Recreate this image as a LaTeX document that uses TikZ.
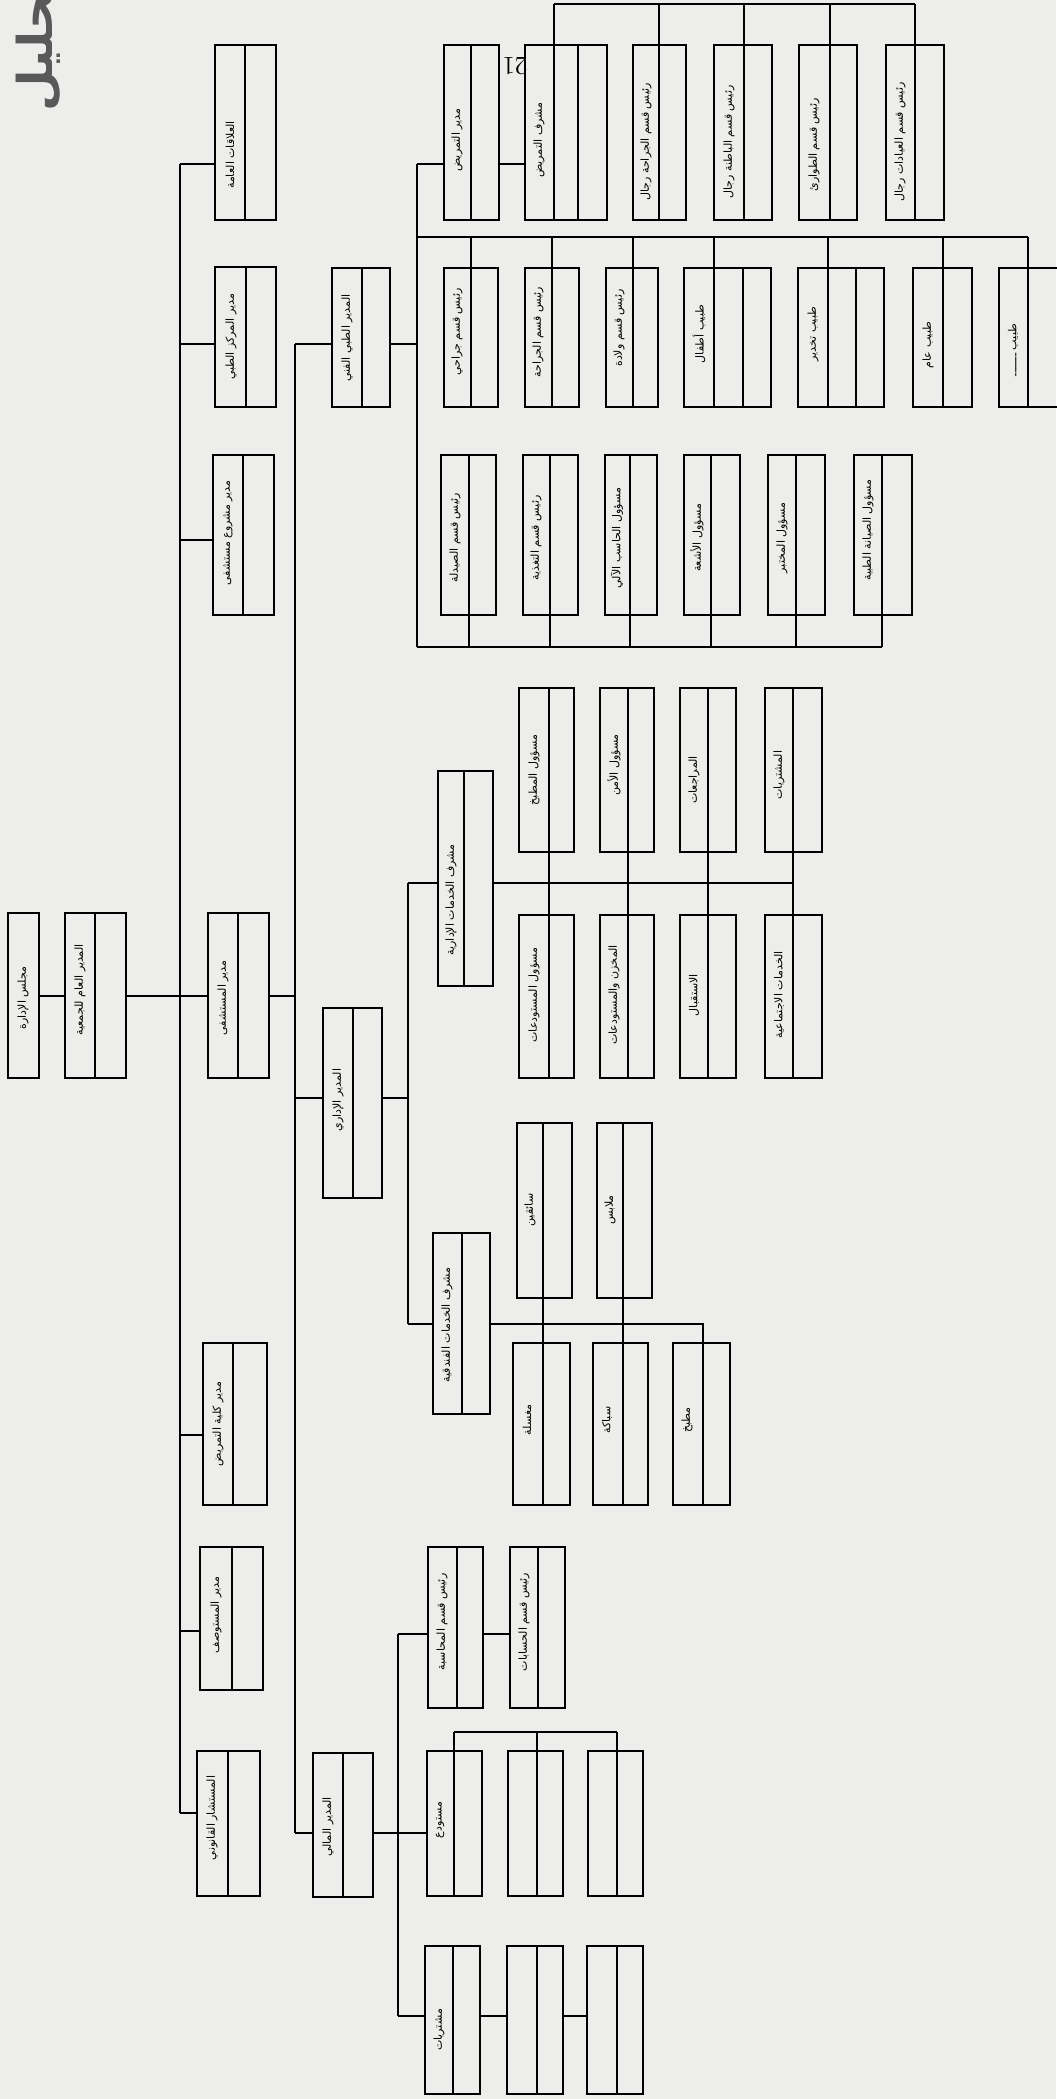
\documentclass[tikz,border=0pt]{standalone}
\usepackage{fontspec}
\usetikzlibrary{fit}
\TeXXeTstate=1
\newfontfamily\ar[Script=Arabic]{DejaVu Sans}
\definecolor{paper}{RGB}{237,237,235}
\tikzset{
  bx/.style={draw=black,line width=1.4pt,inner sep=0pt,outer sep=0pt},
  dv/.style={draw=black,line width=0.9pt},
  cn/.style={draw=black,line width=1.0pt},
  lb/.style={font=\ar\fontsize{5.5}{6}\selectfont,inner sep=0pt,rotate=90},
}
\newcommand\obox[6]{%
  \node[bx,fit={(#2,#3) (#4,#5)}] (#1) {};
  \coordinate (#1-dt) at (#6,#3);
  \coordinate (#1-db) at (#6,#5);
  \draw[dv] (#1-dt) -- (#1-db);}
\newcommand\tx[4]{\node[lb] (#1) at (#2,#3) {#4};}
\begin{document}
\begin{tikzpicture}[x=0.5pt,y=-0.5pt]
\fill[paper] (0,0) rectangle (1056,2099);
\useasboundingbox (0,0) rectangle (1056,2099);
% title and page number
\node[rotate=90,anchor=base west,inner sep=0pt,text=black!65,font=\ar\bfseries\fontsize{24}{24}\selectfont] (title) at (53,112) {\beginR تحليل\endR};
\node[rotate=180,inner sep=0pt,font=\fontsize{13}{13}\selectfont] (pg) at (515,66) {21};
% boxes
\node[bx,fit={(8,913) (39,1078)}] (board) {};
\obox{gm}{65}{913}{126}{1078}{95}
\obox{hosp}{208}{913}{269}{1078}{238}
\obox{pr}{215}{45}{276}{220}{245}
\obox{medc}{215}{267}{276}{407}{246}
\obox{proj}{213}{455}{274}{615}{243}
\obox{tech}{332}{268}{390}{407}{362}
\obox{ncol}{203}{1343}{267}{1505}{233}
\obox{disp}{200}{1547}{263}{1690}{232}
\obox{legal}{197}{1751}{260}{1896}{228}
\obox{adm}{323}{1008}{382}{1198}{353}
\obox{fin}{313}{1753}{373}{1897}{343}
\obox{r1a}{444}{45}{499}{220}{471}
\obox{r1b}{525}{45}{607}{220}{578}
\obox{r1c}{633}{45}{686}{220}{659}
\obox{r1d}{714}{45}{772}{220}{744}
\obox{r1e}{799}{45}{857}{220}{830}
\obox{r1f}{886}{45}{944}{220}{915}
\obox{r2a}{444}{268}{498}{407}{471}
\obox{r2b}{525}{268}{579}{407}{552}
\obox{r2c}{606}{268}{658}{407}{633}
\obox{r2d}{684}{268}{771}{407}{743}
\obox{r2e}{798}{268}{884}{407}{856}
\obox{r2f}{913}{268}{972}{407}{943}
\obox{r2g}{999}{268}{1075}{407}{1028}
\obox{r3a}{441}{455}{496}{615}{469}
\obox{r3b}{523}{455}{578}{615}{550}
\obox{r3c}{605}{455}{657}{615}{630}
\obox{r3d}{684}{455}{740}{615}{711}
\obox{r3e}{768}{455}{825}{615}{796}
\obox{r3f}{854}{455}{912}{615}{882}
\obox{asup}{438}{771}{493}{986}{464}
\obox{u1}{519}{688}{574}{852}{549}
\obox{u2}{600}{688}{654}{852}{628}
\obox{u3}{680}{688}{736}{852}{708}
\obox{u4}{765}{688}{822}{852}{793}
\obox{l1}{519}{915}{574}{1078}{549}
\obox{l2}{600}{915}{654}{1078}{628}
\obox{l3}{680}{915}{736}{1078}{708}
\obox{l4}{765}{915}{822}{1078}{793}
\obox{hsup}{433}{1233}{490}{1414}{462}
\obox{v1}{517}{1123}{572}{1298}{543}
\obox{v2}{597}{1123}{652}{1298}{623}
\obox{w1}{513}{1343}{570}{1505}{543}
\obox{w2}{593}{1343}{648}{1505}{623}
\obox{w3}{673}{1343}{730}{1505}{703}
\obox{f1}{428}{1547}{483}{1708}{457}
\obox{f2}{510}{1547}{565}{1708}{538}
\obox{g1}{427}{1751}{482}{1896}{454}
\obox{g2}{508}{1751}{563}{1896}{537}
\obox{g3}{588}{1751}{643}{1896}{617}
\obox{h1}{425}{1946}{480}{2094}{453}
\obox{h2}{507}{1946}{563}{2094}{537}
\obox{h3}{587}{1946}{643}{2094}{617}
% texts
\tx{t-board}{23}{998}{\beginR مجلس الإدارة\endR}
\tx{t-gm}{80}{990}{\beginR المدير العام للجمعية\endR}
\tx{t-hosp}{223}{998}{\beginR مدير المستشفى\endR}
\tx{t-pr}{230}{155}{\beginR العلاقات العامة\endR}
\tx{t-medc}{231}{337}{\beginR مدير المركز الطبي\endR}
\tx{t-proj}{228}{533}{\beginR مدير مشروع مستشفى\endR}
\tx{t-tech}{347}{338}{\beginR المدير الطبي الفني\endR}
\tx{t-ncol}{218}{1424}{\beginR مدير كلية التمريض\endR}
\tx{t-disp}{216}{1615}{\beginR مدير المستوصف\endR}
\tx{t-legal}{212}{1818}{\beginR المستشار القانوني\endR}
\tx{t-adm}{338}{1100}{\beginR المدير الإداري\endR}
\tx{t-fin}{328}{1827}{\beginR المدير المالي\endR}
\tx{t-r1a}{457}{140}{\beginR مدير التمريض\endR}
\tx{t-r1b}{539}{140}{\beginR مشرف التمريض\endR}
\tx{t-r1c}{646}{142}{\beginR رئيس قسم الجراحة رجال\endR}
\tx{t-r1d}{729}{142}{\beginR رئيس قسم الباطنة رجال\endR}
\tx{t-r1e}{814}{145}{\beginR رئيس قسم الطوارئ\endR}
\tx{t-r1f}{900}{142}{\beginR رئيس قسم العيادات رجال\endR}
\tx{t-r2a}{457}{332}{\beginR رئيس قسم جراحي\endR}
\tx{t-r2b}{538}{332}{\beginR رئيس قسم الجراحة\endR}
\tx{t-r2c}{619}{328}{\beginR رئيس قسم ولادة\endR}
\tx{t-r2d}{699}{334}{\beginR طبيب أطفال\endR}
\tx{t-r2e}{813}{334}{\beginR طبيب تخدير\endR}
\tx{t-r2f}{928}{345}{\beginR طبيب عام\endR}
\tx{t-r2g}{1013}{350}{\beginR طبيب ـــــــ\endR}
\tx{t-r3a}{455}{538}{\beginR رئيس قسم الصيدلة\endR}
\tx{t-r3b}{536}{538}{\beginR رئيس قسم التغذية\endR}
\tx{t-r3c}{617}{538}{\beginR مسؤول الحاسب الآلي\endR}
\tx{t-r3d}{697}{538}{\beginR مسؤول الأشعة\endR}
\tx{t-r3e}{782}{538}{\beginR مسؤول المختبر\endR}
\tx{t-r3f}{868}{530}{\beginR مسؤول الصيانة الطبية\endR}
\tx{t-asup}{451}{900}{\beginR مشرف الخدمات الإدارية\endR}
\tx{t-u1}{534}{770}{\beginR مسؤول المطبخ\endR}
\tx{t-u2}{614}{765}{\beginR مسؤول الأمن\endR}
\tx{t-u3}{694}{780}{\beginR المراجعات\endR}
\tx{t-u4}{779}{775}{\beginR المشتريات\endR}
\tx{t-l1}{534}{995}{\beginR مسؤول المستودعات\endR}
\tx{t-l2}{614}{995}{\beginR المخزن والمستودعات\endR}
\tx{t-l3}{694}{995}{\beginR الاستقبال\endR}
\tx{t-l4}{779}{995}{\beginR الخدمات الاجتماعية\endR}
\tx{t-hsup}{447}{1325}{\beginR مشرف الخدمات الفندقية\endR}
\tx{t-v1}{530}{1210}{\beginR سائقين\endR}
\tx{t-v2}{610}{1210}{\beginR ملابس\endR}
\tx{t-w1}{527}{1420}{\beginR مغسلة\endR}
\tx{t-w2}{607}{1420}{\beginR سباكة\endR}
\tx{t-w3}{687}{1420}{\beginR مطبخ\endR}
\tx{t-f1}{442}{1622}{\beginR رئيس قسم المحاسبة\endR}
\tx{t-f2}{524}{1622}{\beginR رئيس قسم الحسابات\endR}
\tx{t-g1}{440}{1820}{\beginR مستودع\endR}
\tx{t-h1}{439}{2030}{\beginR مشتريات\endR}
% connectors: root
\draw[cn] (board.east) -- (gm.west);
\draw[cn] (gm.east) -- (hosp.west);
% line 1
\coordinate (L1t) at (180,164);
\coordinate (L1b) at (180,1813);
\coordinate (j1) at (180,344);
\coordinate (j2) at (180,540);
\coordinate (j3) at (180,1435);
\coordinate (j4) at (180,1631);
\draw[cn] (L1t) -- (L1b);
\draw[cn] (L1t) -- (pr.west |- L1t);
\draw[cn] (j1) -- (medc.west |- j1);
\draw[cn] (j2) -- (proj.west |- j2);
\draw[cn] (j3) -- (ncol.west |- j3);
\draw[cn] (j4) -- (disp.west |- j4);
\draw[cn] (L1b) -- (legal.west |- L1b);
% line 2
\coordinate (L2t) at (295,344);
\coordinate (L2b) at (295,1833);
\coordinate (j5) at (295,1098);
\draw[cn] (L2t) -- (L2b);
\draw[cn] (L2t) -- (tech.west |- L2t);
\draw[cn] (hosp.east) -- (hosp.east -| L2t);
\draw[cn] (j5) -- (adm.west |- j5);
\draw[cn] (L2b) -- (fin.west |- L2b);
% line 3 (medical)
\coordinate (L3t) at (417,164);
\coordinate (L3m) at (417,344);
\coordinate (B2) at (417,237);
\coordinate (L3b) at (417,647);
\draw[cn] (L3t) -- (L3b);
\draw[cn] (tech.east |- L3m) -- (L3m);
\draw[cn] (L3t) -- (r1a.west |- L3t);
\draw[cn] (r1a.east |- L3t) -- (r1b.west |- L3t);
\coordinate (B1l) at (554,4);
\draw[cn] (B1l) -- (r1f-dt |- B1l);
\draw[cn] (B1l) -- (B1l |- r1b.south);
\draw[cn] (r1c-dt |- B1l) -- (r1c-db);
\draw[cn] (r1d-dt |- B1l) -- (r1d-db);
\draw[cn] (r1e-dt |- B1l) -- (r1e-db);
\draw[cn] (r1f-dt |- B1l) -- (r1f-db);
\draw[cn] (B2) -- (r2g-dt |- B2);
\draw[cn] (r2a-dt |- B2) -- (r2a-db);
\draw[cn] (r2b-dt |- B2) -- (r2b-db);
\draw[cn] (r2c-dt |- B2) -- (r2c-db);
\coordinate (B2d) at (714,237);
\coordinate (B2e) at (828,237);
\draw[cn] (B2d) -- (B2d |- r2d.south);
\draw[cn] (B2e) -- (B2e |- r2e.south);
\draw[cn] (r2f-dt |- B2) -- (r2f-db);
\draw[cn] (r2g-dt |- B2) -- (r2g-db);
\draw[cn] (L3b) -- (r3f-db |- L3b);
\foreach \n in {r3a,r3b,r3c,r3d,r3e,r3f}{\draw[cn] (\n-db |- L3b) -- (\n-dt);}
% line 4 (administration)
\coordinate (L4t) at (408,883);
\coordinate (L4m) at (408,1098);
\coordinate (L4b) at (408,1324);
\draw[cn] (L4t) -- (L4b);
\draw[cn] (adm.east |- L4m) -- (L4m);
\draw[cn] (L4t) -- (asup.west |- L4t);
\draw[cn] (asup.east |- L4t) -- (u4-dt |- L4t);
\draw[cn] (u1-dt) -- (l1-db);
\draw[cn] (u2-dt) -- (l2-db);
\draw[cn] (u3-dt) -- (l3-db);
\draw[cn] (u4-dt) -- (l4-db);
\draw[cn] (L4b) -- (hsup.west |- L4b);
\draw[cn] (hsup.east |- L4b) -| (w3-db);
\draw[cn] (v1-dt) -- (w1-db);
\draw[cn] (v2-dt) -- (w2-db);
% line 5 (finance)
\coordinate (L5t) at (398,1634);
\coordinate (L5m) at (398,1833);
\coordinate (L5b) at (398,2016);
\draw[cn] (L5t) -- (L5b);
\draw[cn] (fin.east |- L5m) -- (L5m);
\draw[cn] (L5t) -- (f1.west |- L5t);
\draw[cn] (f1.east |- L5t) -- (f2.west |- L5t);
\draw[cn] (L5m) -- (g1.west |- L5m);
\coordinate (GB) at (454,1732);
\draw[cn] (g1-dt |- GB) -- (g3-dt |- GB);
\foreach \n in {g1,g2,g3}{\draw[cn] (\n-dt |- GB) -- (\n-db);}
\draw[cn] (L5b) -- (h1.west |- L5b);
\draw[cn] (h1.east |- L5b) -- (h2.west |- L5b);
\draw[cn] (h2.east |- L5b) -- (h3.west |- L5b);
\end{tikzpicture}
\end{document}
